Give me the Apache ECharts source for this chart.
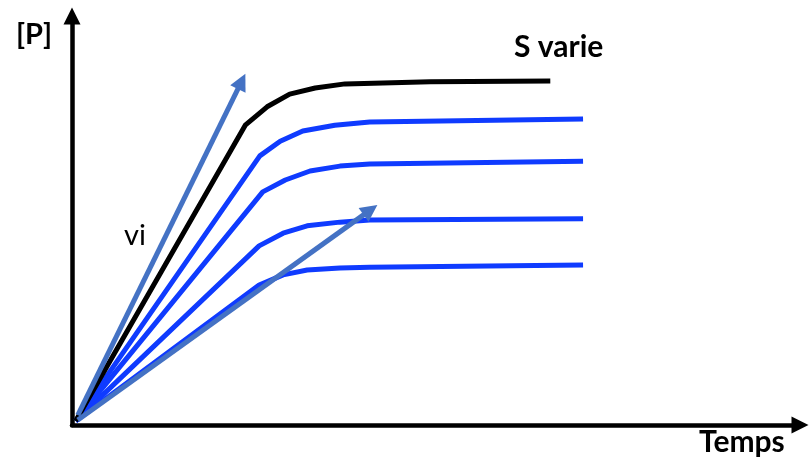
<!DOCTYPE html>
<html>
<head>
<meta charset="utf-8">
<script src="https://cdn.jsdelivr.net/npm/echarts@6/dist/echarts.min.js"></script>
<style>
  html, body { margin: 0; padding: 0; background: #fff; }
  #chart { width: 809px; height: 470px; }
</style>
</head>
<body>
<div id="chart"></div>
<script>
// Product concentration [P] versus time, for increasing substrate concentration S.
// Each curve: [time, [P]] in arbitrary units (0..100 on both axes).
const curveHighS = [[0.5, 1], [23.8, 73.3], [26.8, 77.8], [29.9, 80.9], [33.4, 82.4], [37.5, 83.4], [49.2, 83.9], [65.7, 84.1]];
const curveS4 = [[0.5, 1], [25.8, 65.8], [28.6, 69.4], [31.7, 71.9], [36.1, 73.3], [40.9, 74.1], [70.2, 74.8]];
const curveS3 = [[0.5, 1], [26.2, 57.0], [29.3, 59.9], [32.7, 62.1], [36.8, 63.3], [40.9, 63.8], [70.2, 64.5]];
const curveS2 = [[0.5, 1], [25.7, 43.8], [29.0, 46.9], [32.3, 48.7], [36.8, 49.6], [40.9, 50.1], [70.2, 50.4]];
const curveS1 = [[0.5, 1], [25.7, 34.2], [29.0, 36.7], [32.3, 37.9], [36.8, 38.4], [40.9, 38.6], [70.2, 39.1]];

// Initial-rate tangents (vi): start and end of each arrow.
const tangentFast = [[0.8, 2.4], [23.3, 84.0]];
const tangentSlow = [[0.8, 1.2], [41.0, 52.6]];

const axisLabels = { y: '[P]', x: 'Temps', curves: 'S varie', rate: 'vi' };

const BLUE = '#0F3BFF';
const ARROW = '#4472C4';
const FONT = 'Lato, "Open Sans", sans-serif';

function curve(data, color) {
  return {
    type: 'line',
    data: data,
    showSymbol: false,
    smooth: false,
    lineStyle: { color: color, width: 5, join: 'round' },
    silent: true,
    z: 3
  };
}

function tangent(seg) {
  return {
    type: 'lines',
    coordinateSystem: 'cartesian2d',
    symbol: ['none', 'triangle'],
    symbolSize: [17, 17],
    lineStyle: { color: ARROW, width: 5, opacity: 1 },
    itemStyle: { color: ARROW },
    data: [{ coords: seg }],
    silent: true,
    z: 4
  };
}

function label(text, left, top, weight, size) {
  return {
    type: 'text', left: left, top: top,
    style: { text: text, fontFamily: FONT, fontSize: size, fontWeight: weight, fill: '#000' }
  };
}

const axisStyle = {
  show: true, onZero: false, symbol: ['none', 'triangle'], symbolSize: [17, 17],
  lineStyle: { color: '#000', width: 4.5 }
};

const chart = echarts.init(document.getElementById('chart'), null, { renderer: 'canvas' });
chart.setOption({
  animation: false,
  backgroundColor: '#fff',
  grid: { left: 72, right: 9, top: 16, bottom: 45 },
  xAxis: {
    type: 'value', min: 0, max: 100,
    axisLine: axisStyle,
    axisTick: { show: false }, axisLabel: { show: false }, splitLine: { show: false }
  },
  yAxis: {
    type: 'value', min: 0, max: 100,
    axisLine: axisStyle,
    axisTick: { show: false }, axisLabel: { show: false }, splitLine: { show: false }
  },
  series: [
    curve(curveS1, BLUE),
    curve(curveS2, BLUE),
    curve(curveS3, BLUE),
    curve(curveS4, BLUE),
    curve(curveHighS, '#000'),
    tangent(tangentSlow),
    tangent(tangentFast)
  ],
  graphic: [
    label(axisLabels.y, 16, 20, 'bold', 29),
    label(axisLabels.curves, 514, 32, 'bold', 30),
    label(axisLabels.rate, 124, 221, 'normal', 29),
    label(axisLabels.x, 699, 427, 'bold', 30)
  ]
});
</script>
</body>
</html>
